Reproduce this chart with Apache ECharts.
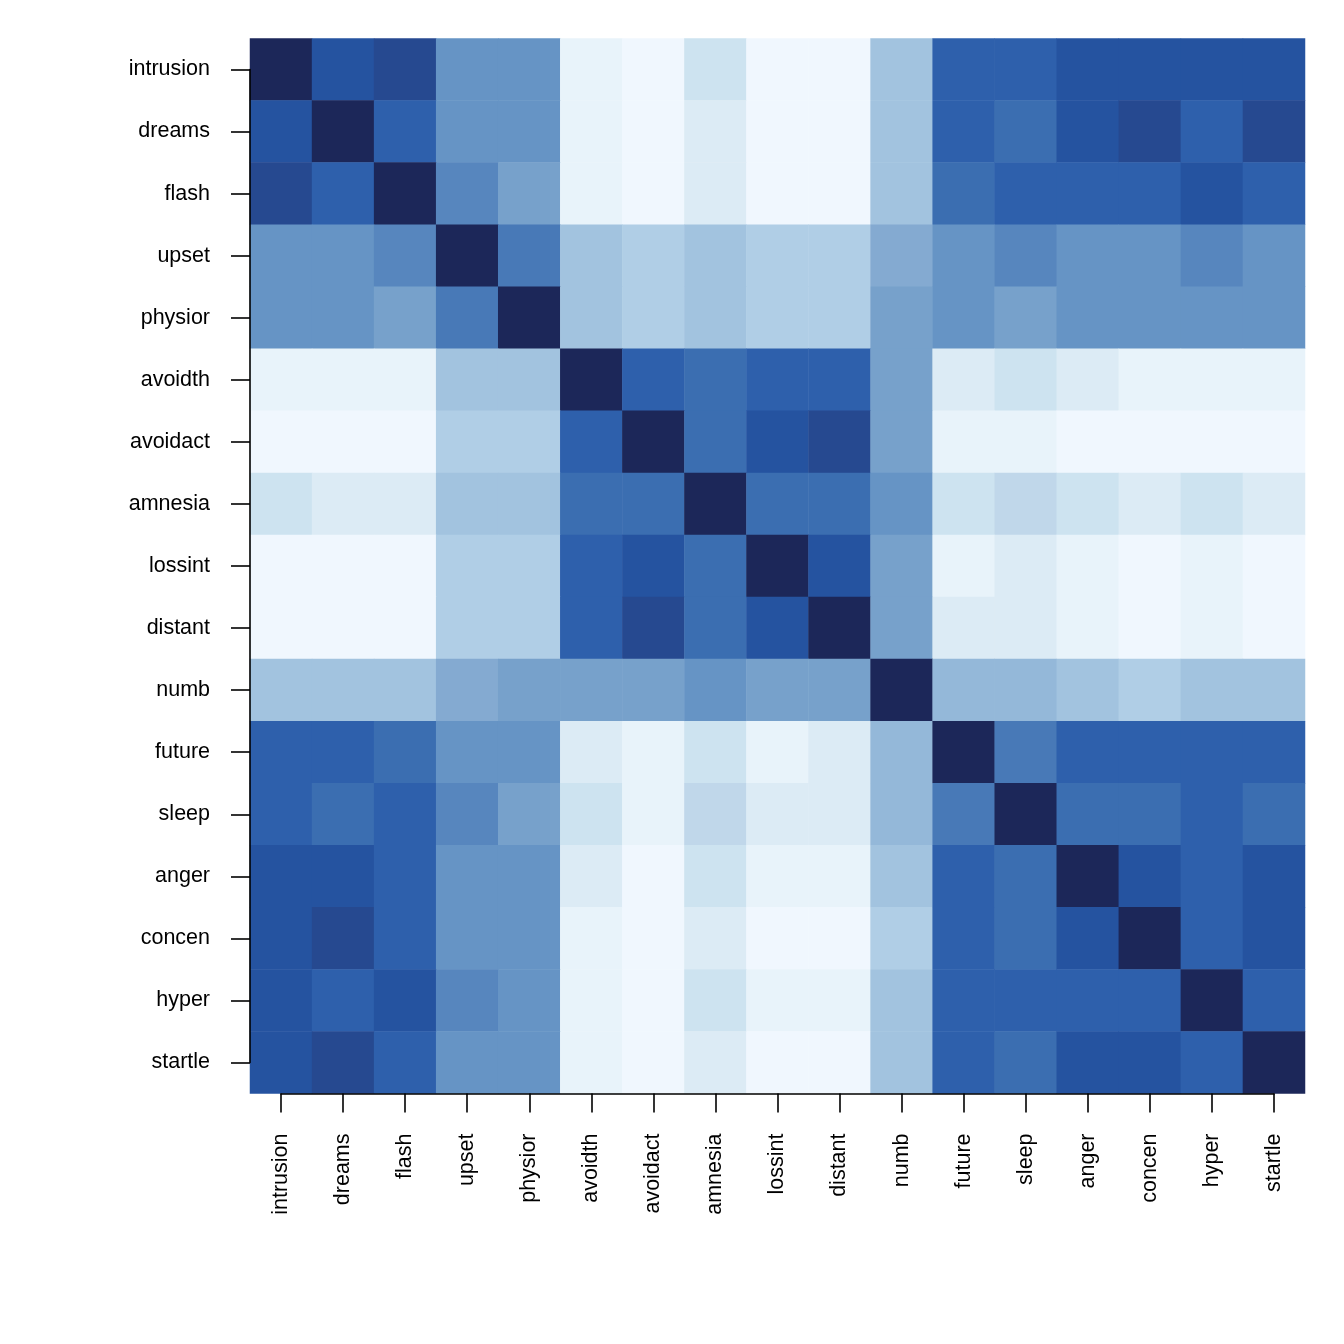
<!DOCTYPE html>
<html>
	<head>
		<meta charset="utf-8">
		<title></title>
		<script src="https://cdn.jsdelivr.net/npm/echarts@6/dist/echarts.min.js"></script>
		<style>
			html, body { margin: 0; padding: 0; background: #fff; }
			.chart { width: 1344px; height: 1344px; }
		</style>
	</head>
	<body>
		<div class="chart"></div>
		<script>
			// variable names (rows top to bottom, columns left to right)
			var vars = ['intrusion', 'dreams', 'flash', 'upset', 'physior', 'avoidth', 'avoidact', 'amnesia',
				'lossint', 'distant', 'numb', 'future', 'sleep', 'anger', 'concen', 'hyper', 'startle'];

			// correlation estimates read off the colour bins
			var intrusion = [1, .64, .68, .44, .44, .08, .04, .16, .04, .04, .28, .60, .60, .64, .64, .64, .64];
			var dreams    = [.64, 1, .60, .44, .44, .08, .04, .12, .04, .04, .28, .60, .56, .64, .68, .60, .68];
			var flash     = [.68, .60, 1, .48, .40, .08, .04, .12, .04, .04, .28, .56, .60, .60, .60, .64, .60];
			var upset     = [.44, .44, .48, 1, .52, .28, .24, .28, .24, .24, .36, .44, .48, .44, .44, .48, .44];
			var physior   = [.44, .44, .40, .52, 1, .28, .24, .28, .24, .24, .40, .44, .40, .44, .44, .44, .44];
			var avoidth   = [.08, .08, .08, .28, .28, 1, .60, .56, .60, .60, .40, .12, .16, .12, .08, .08, .08];
			var avoidact  = [.04, .04, .04, .24, .24, .60, 1, .56, .64, .68, .40, .08, .08, .04, .04, .04, .04];
			var amnesia   = [.16, .12, .12, .28, .28, .56, .56, 1, .56, .56, .44, .16, .20, .16, .12, .16, .12];
			var lossint   = [.04, .04, .04, .24, .24, .60, .64, .56, 1, .64, .40, .08, .12, .08, .04, .08, .04];
			var distant   = [.04, .04, .04, .24, .24, .60, .68, .56, .64, 1, .40, .12, .12, .08, .04, .08, .04];
			var numb      = [.28, .28, .28, .36, .40, .40, .40, .44, .40, .40, 1, .32, .32, .28, .24, .28, .28];
			var future    = [.60, .60, .56, .44, .44, .12, .08, .16, .08, .12, .32, 1, .52, .60, .60, .60, .60];
			var sleep     = [.60, .56, .60, .48, .40, .16, .08, .20, .12, .12, .32, .52, 1, .56, .56, .60, .56];
			var anger     = [.64, .64, .60, .44, .44, .12, .04, .16, .08, .08, .28, .60, .56, 1, .64, .60, .64];
			var concen    = [.64, .68, .60, .44, .44, .08, .04, .12, .04, .04, .24, .60, .56, .64, 1, .60, .64];
			var hyper     = [.64, .60, .64, .48, .44, .08, .04, .16, .08, .08, .28, .60, .60, .60, .60, 1, .60];
			var startle   = [.64, .68, .60, .44, .44, .08, .04, .12, .04, .04, .28, .60, .56, .64, .64, .60, 1];

			var rows = [intrusion, dreams, flash, upset, physior, avoidth, avoidact, amnesia,
				lossint, distant, numb, future, sleep, anger, concen, hyper, startle];

			// bin centres and colours (light -> dark)
			var binMids = [.04, .08, .12, .16, .20, .24, .28, .32, .36, .40, .44, .48, .52, .56, .60, .64, .68];
			var binCols = ['#F0F7FE', '#E8F3FA', '#DCEBF5', '#CDE3F0', '#C0D7EA', '#B0CEE6', '#A2C3DF', '#94B8D9',
				'#84AAD1', '#77A1CB', '#6694C5', '#5786BE', '#4879B7', '#3B6EB1', '#2E60AC', '#2553A0', '#264990'];

			var pieces = [];
			for (var k = 0; k < binMids.length; k++) {
				pieces.push({ gte: binMids[k] - 0.02, lt: binMids[k] + 0.02, color: binCols[k] });
			}
			pieces.push({ gte: 0.9, color: '#1C2759' });

			var data = [];
			for (var i = 0; i < rows.length; i++) {
				for (var j = 0; j < rows[i].length; j++) {
					data.push([j, i, rows[i][j]]);
				}
			}

			var font = '"Liberation Sans", Arial, sans-serif';
			var lineSty = { color: '#000', width: 1.6 };
			var chart = echarts.init(document.querySelector('.chart'));
			chart.setOption({
				backgroundColor: '#fff',
				animation: false,
				grid: [
					{ left: 250, top: 38.5, width: 1055, height: 1055 },
					// axes run from first to last tick like base R
					{ left: 281, top: 69.5, width: 993, height: 993 }
				],
				xAxis: [
					{ type: 'category', data: vars, gridIndex: 0, show: false },
					{
						type: 'category', data: vars, gridIndex: 1, boundaryGap: false, offset: 31, z: 10,
						axisLine: { show: true, lineStyle: lineSty },
						axisTick: { show: true, inside: false, length: 19, interval: 0, lineStyle: lineSty },
						axisLabel: { show: true, rotate: 90, margin: 40, color: '#000', fontSize: 21.5, fontFamily: font, interval: 0 },
						splitLine: { show: false }
					}
				],
				yAxis: [
					{ type: 'category', data: vars, gridIndex: 0, inverse: true, show: false },
					{
						type: 'category', data: vars, gridIndex: 1, inverse: true, boundaryGap: false, offset: 31, z: 10,
						axisLine: { show: true, lineStyle: lineSty },
						axisTick: { show: true, inside: false, length: 19, interval: 0, lineStyle: lineSty },
						axisLabel: { show: true, margin: 40, color: '#000', fontSize: 21.5, fontFamily: font, interval: 0, padding: [5, 0, 0, 0] },
						splitLine: { show: false }
					}
				],
				visualMap: {
					type: 'piecewise',
					show: false,
					dimension: 2,
					seriesIndex: 0,
					pieces: pieces
				},
				series: [{
					type: 'heatmap',
					xAxisIndex: 0,
					yAxisIndex: 0,
					data: data,
					itemStyle: { borderWidth: 0 }
				}]
			});
		</script>
	</body>
</html>
